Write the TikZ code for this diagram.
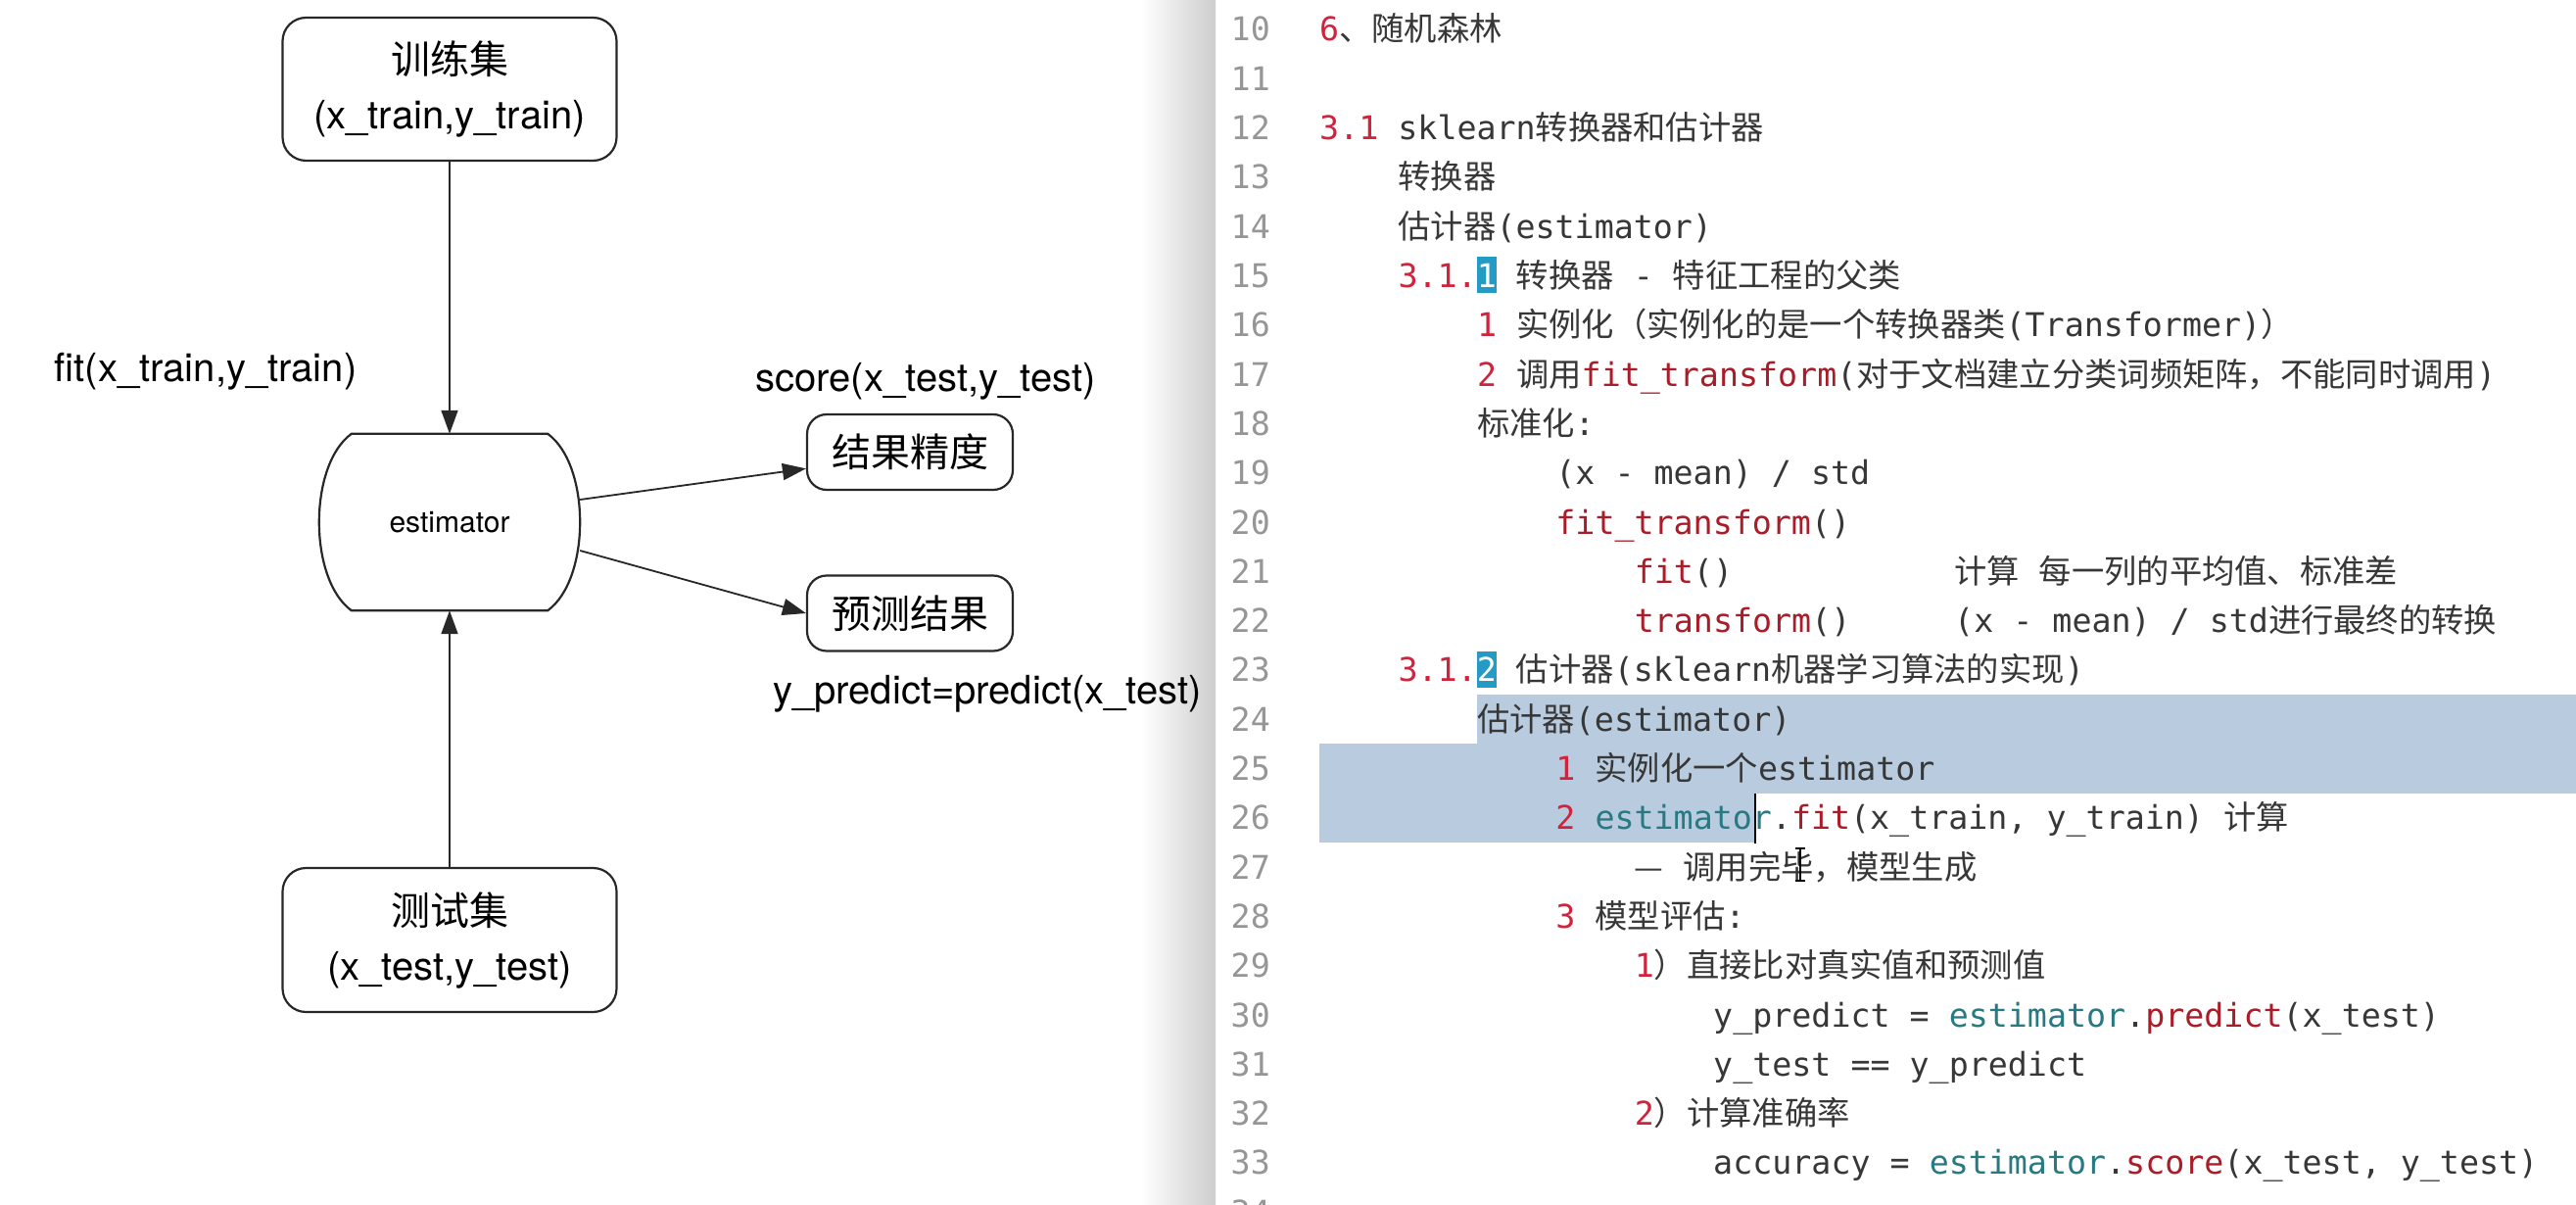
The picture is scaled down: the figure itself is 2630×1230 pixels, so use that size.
\documentclass[tikz,border=0pt]{standalone}
\usepackage{fontspec}
\setmainfont{TeX Gyre Heros}
\newfontfamily\cjkf{Noto Sans CJK SC}
\newfontfamily\monof{DejaVu Sans Mono}
\usetikzlibrary{arrows.meta,calc}
\definecolor{cred}{RGB}{208,36,60}
\definecolor{cfn}{RGB}{170,28,40}
\definecolor{cteal}{RGB}{40,122,130}
\definecolor{ctext}{RGB}{55,55,55}
\definecolor{clnum}{RGB}{150,150,150}
\definecolor{csel}{RGB}{185,203,223}
\definecolor{chl}{RGB}{36,155,196}
\definecolor{cline}{RGB}{40,40,40}
\definecolor{cband}{RGB}{205,205,205}
\newcommand\zh[1]{{\cjkf #1}}
\newcommand\rd[1]{\textcolor{cred}{#1}}
\newcommand\fn[1]{\textcolor{cfn}{#1}}
\newcommand\tl[1]{\textcolor{cteal}{#1}}
\newcommand\hlbox[1]{{\setlength\fboxsep{0pt}\colorbox{chl}{\rule[-6pt]{0pt}{37pt}\textcolor{white}{#1}}}}
\begin{document}
\begin{tikzpicture}[x=1pt,y=-1pt,
 box/.style={draw=cline, line width=2.2pt, rounded corners=24pt, align=center, font=\fontsize{40}{56}\selectfont, text=black},
 sbox/.style={draw=cline, line width=2.2pt, rounded corners=20pt, minimum width=210pt, minimum height=77pt, font=\fontsize{40}{48}\selectfont, text=black},
 lbl/.style={font=\fontsize{40}{48}\selectfont, text=black, inner sep=0pt},
 arr/.style={draw=cline, line width=1.8pt, -{Triangle[length=24pt,width=17pt]}},
 code/.style={anchor=base west, inner sep=0pt, font=\monof\fontsize{33.3}{40}\selectfont, text=ctext},
 lnum/.style={anchor=base east, inner sep=0pt, font=\monof\fontsize{33.3}{40}\selectfont, text=clnum}]
\useasboundingbox (0,0) rectangle (2630,1230);
\clip (0,0) rectangle (2630,1230);
\fill[white] (0,0) rectangle (2630,1230);
% separator band
\shade[left color=white, right color=cband] (1165,0) rectangle (1241,1230);
% selection
\fill[csel] (1507.8,709) rectangle (2630,759.4);
\fill[csel] (1347,759.4) rectangle (2630,809.7);
\fill[csel] (1347,809.7) rectangle (1792,860);
% diagram
\node[box, minimum width=341pt, minimum height=146pt] (train) at (459,91) {\zh{训练集}\\(x\_train,y\_train)};
\node[box, minimum width=341pt, minimum height=147pt] (test) at (459,959.5) {\zh{测试集}\\(x\_test,y\_test)};
\node[draw=none, minimum width=266pt, minimum height=180pt, font=\fontsize{30}{36}\selectfont, text=black] (est) at (459,533) {estimator};
\draw[line width=2.2pt, draw=cline] ($(est.north west)+(33,0)$) -- ($(est.north east)+(-33,0)$)
  .. controls ($(est.north east)+(11,32)$) and ($(est.south east)+(11,-32)$) .. ($(est.south east)+(-33,0)$)
  -- ($(est.south west)+(33,0)$)
  .. controls ($(est.south west)+(-11,-32)$) and ($(est.north west)+(-11,32)$) .. cycle;
\node[sbox] (res) at (929,461.5) {\zh{结果精度}};
\node[sbox] (pred) at (929,626) {\zh{预测结果}};
\node[lbl] (fitl) at (210,379) {fit(x\_train,y\_train)};
\node[lbl] (scl) at (945,389) {score(x\_test,y\_test)};
\node[lbl] (prl) at (1008,708) {y\_predict=predict(x\_test)};
\draw[arr] (train.south) -- (est.north);
\draw[arr] (test.north) -- (est.south);
\draw[arr] ($(est.east)+(0,-23)$) -- (res.189);
\draw[arr] ($(est.east)+(0,29)$) -- (pred.west);
% line numbers
\foreach \n in {10,...,34} \node[lnum] (n\n) at (1297,{42+50.3*(\n-10)}) {\n};
% code
\node[code] (c10) at (1347,{42+50.3*0}) {\rd{6}\zh{、随机森林}};
\node[code] (c12) at (1347,{42+50.3*2}) {\rd{3.1} sklearn\zh{转换器和估计器}};
\node[code] (c13) at (1427.4,{42+50.3*3}) {\zh{转换器}};
\node[code] (c14) at (1427.4,{42+50.3*4}) {\zh{估计器}(estimator)};
\node[code] (c15) at (1427.4,{42+50.3*5}) {\rd{3.1.}\hlbox{1} \zh{转换器} - \zh{特征工程的父类}};
\node[code] (c16) at (1507.8,{42+50.3*6}) {\rd{1} \zh{实例化（实例化的是一个转换器类}(Transformer)\zh{）}};
\node[code] (c17) at (1507.8,{42+50.3*7}) {\rd{2} \zh{调用}\fn{fit\_transform}(\zh{对于文档建立分类词频矩阵，不能同时调用})};
\node[code] (c18) at (1507.8,{42+50.3*8}) {\zh{标准化}:};
\node[code] (c19) at (1588.2,{42+50.3*9}) {(x - mean) / std};
\node[code] (c20) at (1588.2,{42+50.3*10}) {\fn{fit\_transform}()};
\node[code] (c21) at (1668.6,{42+50.3*11}) {\fn{fit}()};
\node[code] (c21b) at (1995,{42+50.3*11}) {\zh{计算} \zh{每一列的平均值、标准差}};
\node[code] (c22) at (1668.6,{42+50.3*12}) {\fn{transform}()};
\node[code] (c22b) at (1995,{42+50.3*12}) {(x - mean) / std\zh{进行最终的转换}};
\node[code] (c23) at (1427.4,{42+50.3*13}) {\rd{3.1.}\hlbox{2} \zh{估计器}(sklearn\zh{机器学习算法的实现})};
\node[code] (c24) at (1507.8,{42+50.3*14}) {\zh{估计器}(estimator)};
\node[code] (c25) at (1588.2,{42+50.3*15}) {\rd{1} \zh{实例化一个}estimator};
\node[code] (c26) at (1588.2,{42+50.3*16}) {\rd{2} \tl{estimator}.\fn{fit}(x\_train, y\_train) \zh{计算}};
\node[code] (c27) at (1668.6,{42+50.3*17}) {\zh{—} \zh{调用完毕，模型生成}};
\node[code] (c28) at (1588.2,{42+50.3*18}) {\rd{3} \zh{模型评估}:};
\node[code] (c29) at (1668.6,{42+50.3*19}) {\rd{1}\zh{）直接比对真实值和预测值}};
\node[code] (c30) at (1749,{42+50.3*20}) {y\_predict = \tl{estimator}.\fn{predict}(x\_test)};
\node[code] (c31) at (1749,{42+50.3*21}) {y\_test == y\_predict};
\node[code] (c32) at (1668.6,{42+50.3*22}) {\rd{2}\zh{）计算准确率}};
\node[code] (c33) at (1749,{42+50.3*23}) {accuracy = \tl{estimator}.\fn{score}(x\_test, y\_test)};
% text caret and mouse pointer
\draw[line width=1.6pt, black] (1792,810) -- (1792,861);
\draw[line width=1.6pt, black] (1833,866) -- (1843,866) (1838,866) -- (1838,899) (1833,899) -- (1843,899);
\end{tikzpicture}
\end{document}
